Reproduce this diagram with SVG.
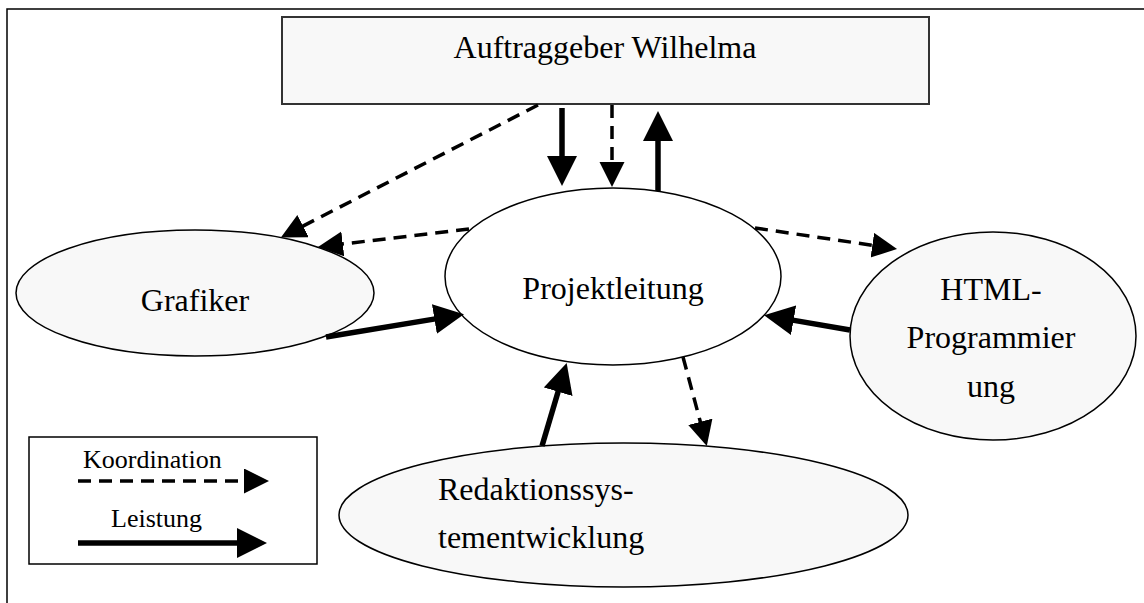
<svg xmlns="http://www.w3.org/2000/svg" width="1144" height="603" viewBox="0 0 1144 603">
<style>
.node{fill:#f8f8f8;stroke:#000;stroke-width:1.5}
.white{fill:#fff;stroke:#000;stroke-width:1.5}
text{font-family:"Times New Roman",Times,"Liberation Serif","DejaVu Serif","Noto Serif",FreeSerif,Georgia,serif;fill:#000}
.lbl{font-size:32px}
.leg{font-size:26px}
.dash{stroke:#000;stroke-width:3.5;fill:none;stroke-dasharray:13 8;marker-end:url(#hd)}
.solid{stroke:#000;stroke-width:5.5;fill:none;marker-end:url(#hs)}
</style>
<defs>
<marker id="hd" markerUnits="userSpaceOnUse" markerWidth="26" markerHeight="26" refX="1" refY="12.5" orient="auto" viewBox="0 0 26 26">
<path d="M0,0 L25,12.5 L0,25 Z" fill="#000"/>
</marker>
<marker id="hs" markerUnits="userSpaceOnUse" markerWidth="31" markerHeight="31" refX="1" refY="15" orient="auto" viewBox="0 0 31 31">
<path d="M0,0 L30,15 L0,30 Z" fill="#000"/>
</marker>
</defs>
<rect width="1144" height="603" fill="#fff"/>
<path d="M7,603 V9 H1144" fill="none" stroke="#000" stroke-width="1.5"/>

<g id="auftraggeber">
<rect x="282" y="17" width="647" height="87" fill="#f8f8f8" stroke="#333" stroke-width="2"/>
<text class="lbl" x="605" y="58" text-anchor="middle">Auftraggeber Wilhelma</text>
</g>
<g id="projektleitung">
<ellipse class="white" cx="613" cy="276.5" rx="168" ry="88.5"/>
<text class="lbl" x="613" y="299" text-anchor="middle">Projektleitung</text>
</g>
<g id="grafiker">
<ellipse class="node" cx="195" cy="293" rx="179" ry="63"/>
<text class="lbl" x="195" y="311" text-anchor="middle">Grafiker</text>
</g>
<g id="html">
<ellipse class="node" cx="993" cy="336" rx="143" ry="104"/>
<text class="lbl" x="991" y="300" text-anchor="middle">HTML-</text>
<text class="lbl" x="991" y="348" text-anchor="middle">Programmier</text>
<text class="lbl" x="991" y="397" text-anchor="middle">ung</text>
</g>
<g id="redaktion">
<ellipse class="node" cx="623.5" cy="515" rx="284.5" ry="72"/>
<text class="lbl" x="438" y="500">Redaktionssys-</text>
<text class="lbl" x="438" y="548">tementwicklung</text>
</g>
<g id="legend">
<rect x="29" y="437" width="288" height="127" fill="#fff" stroke="#000" stroke-width="1.5"/>
<text class="leg" x="83" y="468">Koordination</text>
<text class="leg" x="111" y="527">Leistung</text>
<line class="dash" x1="78" y1="481" x2="245" y2="481" stroke-dasharray="14 9"/>
<line class="solid" x1="78" y1="543" x2="238" y2="543"/>
</g>

<g id="connectors">
<line class="solid" x1="562" y1="108" x2="562" y2="157"/>
<line class="dash" x1="612" y1="105" x2="612" y2="163"/>
<line class="solid" x1="658" y1="191" x2="658" y2="140"/>
<line class="dash" x1="538" y1="105" x2="302.2" y2="226.5"/>
<line class="dash" x1="469" y1="229" x2="341.8" y2="244.1"/>
<line class="dash" x1="755" y1="228" x2="873.3" y2="245.4"/>
<line class="solid" x1="850" y1="330" x2="792.6" y2="320.1"/>
<line class="solid" x1="326" y1="337" x2="435.4" y2="318.9"/>
<line class="solid" x1="542" y1="446" x2="558.4" y2="390.8"/>
<line class="dash" x1="683" y1="357" x2="700.6" y2="422.8"/>
</g>
</svg>
